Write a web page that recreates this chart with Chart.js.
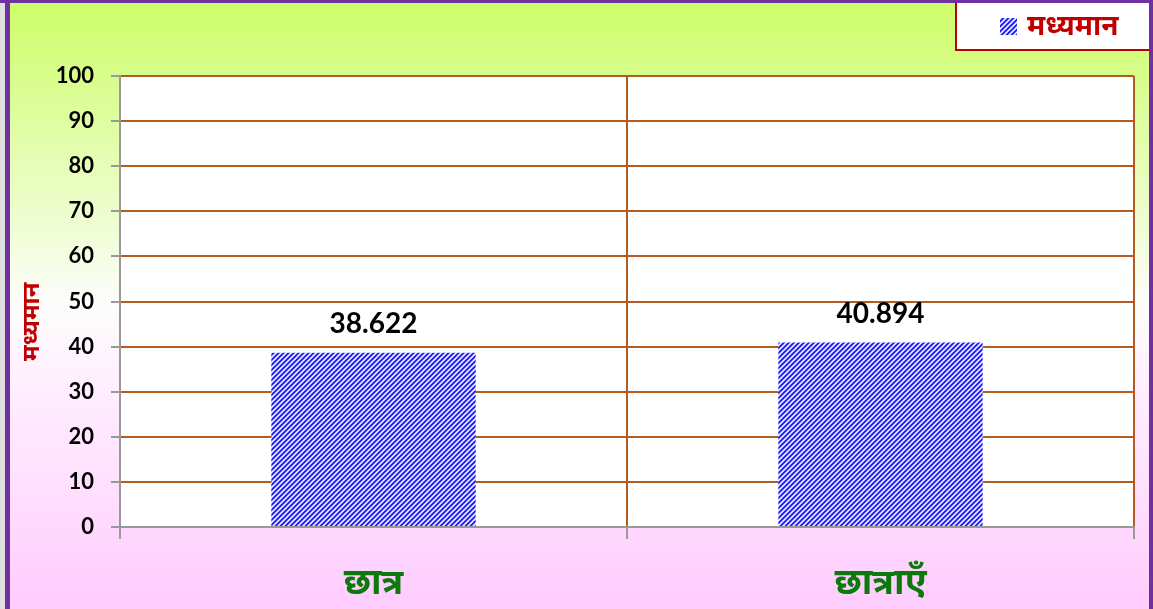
<!DOCTYPE html>
<html>
<head>
<meta charset="utf-8">
<script src="https://cdn.jsdelivr.net/npm/chart.js@4"></script>
<style>
  html, body { margin: 0; padding: 0; background: #fff; }
  #wrap { width: 1153px; height: 609px; position: relative; }
</style>
</head>
<body>
<div id="wrap"><canvas id="chart" width="1153" height="609"></canvas></div>
<script>
// dati del grafico
const categories = ["छात्र", "छात्राएँ"];
const meanValues = [38.622, 40.894];
const seriesLabel = "मध्यमान";
const yTitle = "मध्यमान";
const yTicks = [0, 10, 20, 30, 40, 50, 60, 70, 80, 90, 100];

const FONT = "Lato, 'Noto Sans', sans-serif";

// motivo a righe diagonali blu
function makeHatch() {
  const s = 5;
  const c = document.createElement("canvas");
  c.width = s; c.height = s;
  const g = c.getContext("2d");
  const img = g.createImageData(s, s);
  const shades = [[30, 30, 255], [40, 40, 240], [140, 140, 255], [255, 255, 255], [170, 170, 255]];
  for (let y = 0; y < s; y++) {
    for (let x = 0; x < s; x++) {
      const col = shades[(x + y) % s];
      const i = (y * s + x) * 4;
      img.data[i] = col[0]; img.data[i + 1] = col[1]; img.data[i + 2] = col[2]; img.data[i + 3] = 255;
    }
  }
  g.putImageData(img, 0, 0);
  return document.getElementById("chart").getContext("2d").createPattern(c, "repeat");
}
const hatch = makeHatch();

// sfondo, cornice, area bianca
const backgroundPlugin = {
  id: "bg",
  beforeDraw(chart) {
    const { ctx, width, height, chartArea: a } = chart;
    ctx.save();
    const grad = ctx.createLinearGradient(0, 0, 0, height);
    grad.addColorStop(0, "#ccfe66");
    grad.addColorStop(0.25, "#e4fdb0");
    grad.addColorStop(0.5, "#fdfdfb");
    grad.addColorStop(0.62, "#fff0ff");
    grad.addColorStop(1, "#ffccfe");
    ctx.fillStyle = grad;
    ctx.fillRect(0, 0, width, height);
    // cornice viola
    ctx.fillStyle = "#dedede";
    ctx.fillRect(0, 0, 5, height);
    ctx.fillStyle = "#7030a0";
    ctx.fillRect(5, 0, 5, height);
    ctx.fillRect(0, 0, width, 3);
    ctx.fillRect(width - 4, 0, 4, height);
    // area del grafico
    ctx.fillStyle = "#ffffff";
    ctx.fillRect(a.left, a.top, a.right - a.left, a.bottom - a.top);
    ctx.restore();
  }
};

// etichette valori, titolo asse y, legenda
const labelsPlugin = {
  id: "labels",
  afterDatasetsDraw(chart) {
    const { ctx } = chart;
    const meta = chart.getDatasetMeta(0);
    ctx.save();
    ctx.font = "bold 28px " + FONT;
    ctx.fillStyle = "#000";
    ctx.textAlign = "center";
    ctx.textBaseline = "alphabetic";
    meta.data.forEach((bar, i) => {
      ctx.fillText(meanValues[i].toFixed(3), bar.x, bar.y - 20);
    });

    // titolo asse y
    const yScale = chart.scales.y;
    ctx.translate(31, yScale.getPixelForValue(45.5));
    ctx.rotate(-Math.PI / 2);
    ctx.font = "bold 24px " + FONT;
    ctx.fillStyle = "#c00000";
    ctx.textBaseline = "middle";
    ctx.fillText(yTitle, 0, 0);
    ctx.restore();

    // legenda
    ctx.save();
    ctx.fillStyle = "#ffffff";
    ctx.fillRect(955, 3, 194, 47);
    ctx.strokeStyle = "#c00000";
    ctx.lineWidth = 2;
    ctx.beginPath();
    ctx.moveTo(1149, 50); ctx.lineTo(956, 50); ctx.lineTo(956, 3);
    ctx.stroke();
    ctx.fillStyle = hatch;
    ctx.fillRect(1000, 18, 17, 17);
    ctx.font = "bold 28px " + FONT;
    ctx.fillStyle = "#c00000";
    ctx.textAlign = "left";
    ctx.textBaseline = "middle";
    ctx.fillText(chart.data.datasets[0].label, 1027, 26);
    ctx.restore();
  }
};

new Chart(document.getElementById("chart"), {
  type: "bar",
  data: {
    labels: categories,
    datasets: [{
      label: seriesLabel,
      data: meanValues,
      backgroundColor: hatch,
      borderWidth: 0,
      barPercentage: 0.403,
      categoryPercentage: 1
    }]
  },
  options: {
    responsive: false,
    animation: false,
    layout: { padding: { top: 76, right: 19, left: 0, bottom: 0 } },
    plugins: {
      legend: { display: false },
      tooltip: { enabled: false }
    },
    scales: {
      x: {
        grid: {
          offset: true,
          color: "#b35c1e",
          lineWidth: 2,
          tickColor: "#999999",
          tickLength: 12
        },
        border: { color: "#999999", width: 2 },
        ticks: {
          color: "#0b7a0b",
          font: { family: FONT, size: 36, weight: "bold" },
          padding: 22
        },
        afterFit(scale) { scale.height = 82; }
      },
      y: {
        min: 0,
        max: 100,
        afterBuildTicks(scale) { scale.ticks = yTicks.map(v => ({ value: v })); },
        grid: {
          color: "#b35c1e",
          lineWidth: 2,
          tickColor: "#999999",
          tickLength: 9
        },
        border: { color: "#999999", width: 2 },
        ticks: {
          color: "#000",
          font: { family: FONT, size: 22, weight: "bold" },
          padding: 17
        },
        afterFit(scale) { scale.width = 120; }
      }
    }
  },
  plugins: [backgroundPlugin, labelsPlugin]
});
</script>
</body>
</html>
